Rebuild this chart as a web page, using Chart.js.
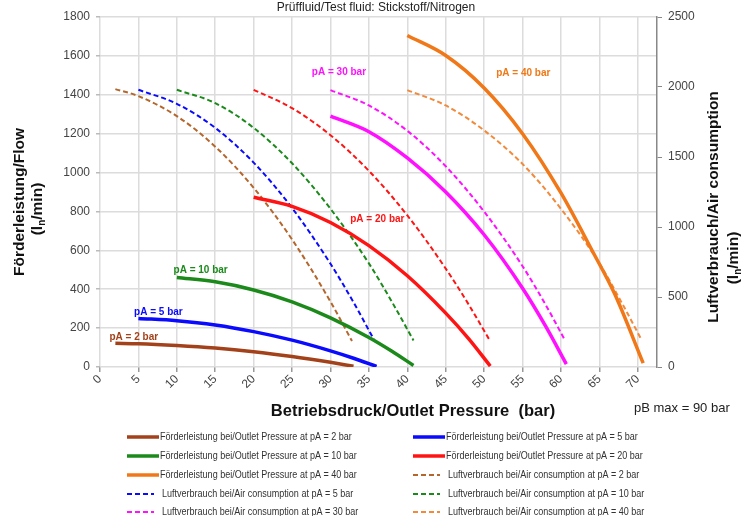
<!DOCTYPE html>
<html>
<head>
<meta charset="utf-8">
<script src="https://cdn.jsdelivr.net/npm/chart.js@4.4.1/dist/chart.umd.min.js"></script>
<style>
  html, body { margin: 0; padding: 0; background: #fff; }
</style>
</head>
<body>
<canvas id="pumpChart" width="749" height="516"></canvas>
<script>
// Outlet pressure (bar) / flow (l/min, left axis) for each drive pressure pA
const flow2X  = [2, 5, 10, 15, 20, 25, 30, 33];
const flow2Y  = [122, 120, 111, 98, 79, 54, 24, 4];
const flow5X  = [5, 10, 15, 20, 25, 30, 33, 36];
const flow5Y  = [250, 238, 216, 182, 138, 83, 45, 3];
const flow10X = [10, 15, 20, 25, 30, 35, 38, 40.8];
const flow10Y = [460, 438, 396, 335, 253, 152, 81, 8];
const flow20X = [20, 25, 30, 35, 40, 45, 48, 50.8];
const flow20Y = [873, 826, 743, 624, 469, 277, 145, 5];
const flow30X = [30, 35, 40, 45, 50, 55, 58, 60.7];
const flow30Y = [1290, 1210, 1075, 900, 680, 405, 210, 15];
const flow40X = [40, 45, 50, 55, 60, 64, 67, 70.7];
const flow40Y = [1705, 1602, 1435, 1200, 895, 603, 375, 20];

// Air consumption (l/min, right axis)
const air2X  = [2, 5, 10, 15, 20, 25, 30, 32.8];
const air2Y  = [1985, 1935, 1792, 1574, 1280, 911, 467, 185];
const air5X  = [5, 10, 15, 20, 25, 30, 33, 35.8];
const air5Y  = [1980, 1880, 1708, 1460, 1136, 737, 462, 181];
const air10X = [10, 15, 20, 25, 30, 35, 38, 40.8];
const air10Y = [1980, 1885, 1708, 1455, 1130, 740, 465, 190];
const air20X = [20, 25, 30, 35, 40, 45, 48, 50.7];
const air20Y = [1980, 1849, 1656, 1401, 1083, 703, 445, 193];
const air30X = [30, 35, 40, 45, 50, 55, 58, 60.5];
const air30Y = [1978, 1868, 1687, 1434, 1110, 720, 445, 193];
const air40X = [40, 45, 50, 55, 60, 65, 68, 70.5];
const air40Y = [1978, 1868, 1690, 1450, 1130, 740, 450, 193];

// axis ranges / tick steps
const xRange = [0, 72.5];
const xStep = 5;
const flowRange = [0, 1800];
const flowStep = 200;
const airRange = [0, 2500];
const airStep = 500;

// curve tags "pA = .. bar" (data coords, left axis)
const tagText = ['pA = 2 bar', 'pA = 5 bar', 'pA = 10 bar', 'pA = 20 bar', 'pA = 30 bar', 'pA = 40 bar'];
const tagX = [4.4, 7.6, 13.1, 36.1, 31.1, 55.1];
const tagY = [154, 283, 499, 761, 1517, 1512];

const FONT = '"Liberation Sans", Arial, Helvetica, sans-serif';
const C = {
    brown: '#a3421a', brownD: '#b5662c', blue: '#0a0aff', green: '#1b8a1b',
    red: '#ff1414', magenta: '#ff10ff', orange: '#f07818', orangeD: '#f28a3c'
};
const tagColors = [C.brown, C.blue, C.green, C.red, C.magenta, C.orange];

const fl = 'Förderleistung bei/Outlet Pressure at pA = ';
const lv = 'Luftverbrauch bei/Air consumption at pA = ';

// legend = slot in the two-column legend (null = not listed)
const series = [
    { label: fl + '2 bar',  x: flow2X,  y: flow2Y,  color: C.brown,   dash: false, legend: 0 },
    { label: fl + '5 bar',  x: flow5X,  y: flow5Y,  color: C.blue,    dash: false, legend: 1 },
    { label: fl + '10 bar', x: flow10X, y: flow10Y, color: C.green,   dash: false, legend: 2 },
    { label: fl + '20 bar', x: flow20X, y: flow20Y, color: C.red,     dash: false, legend: 3 },
    { label: fl + '30 bar', x: flow30X, y: flow30Y, color: C.magenta, dash: false, legend: null },
    { label: fl + '40 bar', x: flow40X, y: flow40Y, color: C.orange,  dash: false, legend: 4 },
    { label: lv + '2 bar',  x: air2X,   y: air2Y,   color: C.brownD,  dash: true,  legend: 5 },
    { label: lv + '5 bar',  x: air5X,   y: air5Y,   color: C.blue,    dash: true,  legend: 6 },
    { label: lv + '10 bar', x: air10X,  y: air10Y,  color: C.green,   dash: true,  legend: 7 },
    { label: lv + '20 bar', x: air20X,  y: air20Y,  color: C.red,     dash: true,  legend: null },
    { label: lv + '30 bar', x: air30X,  y: air30Y,  color: C.magenta, dash: true,  legend: 8 },
    { label: lv + '40 bar', x: air40X,  y: air40Y,  color: C.orangeD, dash: true,  legend: 9 }
];

const datasets = series.map(s => ({
    label: s.label,
    data: s.x.map((v, i) => ({ x: v, y: s.y[i] })),
    yAxisID: s.dash ? 'y2' : 'y',
    borderColor: s.color,
    borderWidth: s.dash ? 2 : 3.5,
    borderDash: s.dash ? [5, 3] : [],
    pointRadius: 0,
    fill: false,
    cubicInterpolationMode: 'monotone'
}));

// vertical text with subscript n: "(l" + "n" + "/min)"
function drawUnit(ctx, cx, cy, size) {
    ctx.save();
    ctx.translate(cx, cy);
    ctx.rotate(-Math.PI / 2);
    ctx.textAlign = 'left';
    ctx.textBaseline = 'middle';
    const big = 'bold ' + size + 'px ' + FONT;
    const small = 'bold ' + Math.round(size * 0.65) + 'px ' + FONT;
    ctx.font = big;
    const w1 = ctx.measureText('(l').width;
    const w3 = ctx.measureText('/min)').width;
    ctx.font = small;
    const w2 = ctx.measureText('n').width;
    let x0 = -(w1 + w2 + w3) / 2;
    ctx.font = big;
    ctx.fillText('(l', x0, 0);
    ctx.font = small;
    ctx.fillText('n', x0 + w1, size * 0.3);
    ctx.font = big;
    ctx.fillText('/min)', x0 + w1 + w2, 0);
    ctx.restore();
}

function drawVertical(ctx, text, cx, cy, size) {
    ctx.save();
    ctx.translate(cx, cy);
    ctx.rotate(-Math.PI / 2);
    ctx.font = 'bold ' + size + 'px ' + FONT;
    ctx.textAlign = 'center';
    ctx.textBaseline = 'middle';
    ctx.fillText(text, 0, 0);
    ctx.restore();
}

const overlay = {
    id: 'overlay',
    afterDraw(chart) {
        const { ctx, scales: { x, y } } = chart;
        ctx.save();
        ctx.fillStyle = '#222';
        ctx.textAlign = 'center';
        ctx.textBaseline = 'middle';
        ctx.font = '12px ' + FONT;
        ctx.fillText('Prüffluid/Test fluid: Stickstoff/Nitrogen', 376, 8);

        // curve tags
        ctx.font = 'bold 10px ' + FONT;
        tagText.forEach((t, i) => {
            ctx.fillStyle = tagColors[i];
            ctx.fillText(t, x.getPixelForValue(tagX[i]), y.getPixelForValue(tagY[i]));
        });

        // axis titles
        ctx.fillStyle = '#111';
        drawVertical(ctx, 'Förderleistung/Flow', 20, 202, 15.5);
        drawUnit(ctx, 38, 209, 15.5);
        drawVertical(ctx, 'Luftverbrauch/Air consumption', 714, 207, 15.5);
        drawUnit(ctx, 734, 258, 15.5);

        ctx.font = 'bold 16.5px ' + FONT;
        ctx.textAlign = 'center';
        ctx.fillText('Betriebsdruck/Outlet Pressure  (bar)', 413, 411);
        ctx.font = '13px ' + FONT;
        ctx.textAlign = 'left';
        ctx.fillStyle = '#222';
        ctx.fillText('pB max = 90 bar', 634, 408);

        // legend, two columns
        const colX = [127, 413];
        const rowY = [437, 456, 475, 494, 512];
        series.forEach(s => {
            if (s.legend === null) return;
            const lx = colX[s.legend % 2];
            const ly = rowY[Math.floor(s.legend / 2)];
            ctx.strokeStyle = s.color;
            ctx.lineWidth = s.dash ? 2 : 3.5;
            ctx.setLineDash(s.dash ? [5, 3] : []);
            ctx.beginPath();
            ctx.moveTo(lx, ly);
            ctx.lineTo(lx + (s.dash ? 27 : 32), ly);
            ctx.stroke();
            ctx.setLineDash([]);
            ctx.save();
            ctx.translate(lx + (s.dash ? 35 : 33), ly);
            ctx.scale(0.82, 1);
            ctx.fillStyle = '#333';
            ctx.font = '11px ' + FONT;
            ctx.textAlign = 'left';
            ctx.fillText(s.label, 0, 0);
            ctx.restore();
        });
        ctx.restore();
    }
};

Chart.defaults.font.family = FONT;
const plain = v => String(v);

new Chart(document.getElementById('pumpChart'), {
    type: 'line',
    data: { datasets },
    options: {
        responsive: false,
        animation: false,
        layout: { padding: { top: 17, left: 0, right: 0, bottom: 0 } },
        plugins: {
            legend: { display: false },
            tooltip: { enabled: false },
            title: { display: false }
        },
        scales: {
            x: {
                type: 'linear',
                min: xRange[0],
                max: xRange[1],
                afterFit: s => { s.height = 149; },
                ticks: {
                    stepSize: xStep, includeBounds: false, callback: plain,
                    minRotation: 45, maxRotation: 45,
                    color: '#444', font: { size: 12 }, padding: 0
                },
                grid: { color: '#dcdcdc', lineWidth: 1.5, tickLength: 5, tickColor: '#999' },
                border: { display: false }
            },
            y: {
                position: 'left',
                min: flowRange[0],
                max: flowRange[1],
                afterFit: s => { s.width = 100; },
                ticks: { stepSize: flowStep, callback: plain, color: '#444', font: { size: 12 }, padding: 6 },
                grid: { color: '#dcdcdc', lineWidth: 1.5, tickLength: 4, tickColor: '#bbb' },
                border: { display: false }
            },
            y2: {
                position: 'right',
                min: airRange[0],
                max: airRange[1],
                afterFit: s => { s.width = 92; },
                ticks: { stepSize: airStep, callback: plain, color: '#444', font: { size: 12 }, padding: 6 },
                grid: { drawOnChartArea: false, tickLength: 5, color: '#888' },
                border: { display: true, color: '#888', width: 1.5 }
            }
        }
    },
    plugins: [overlay]
});
</script>
</body>
</html>
